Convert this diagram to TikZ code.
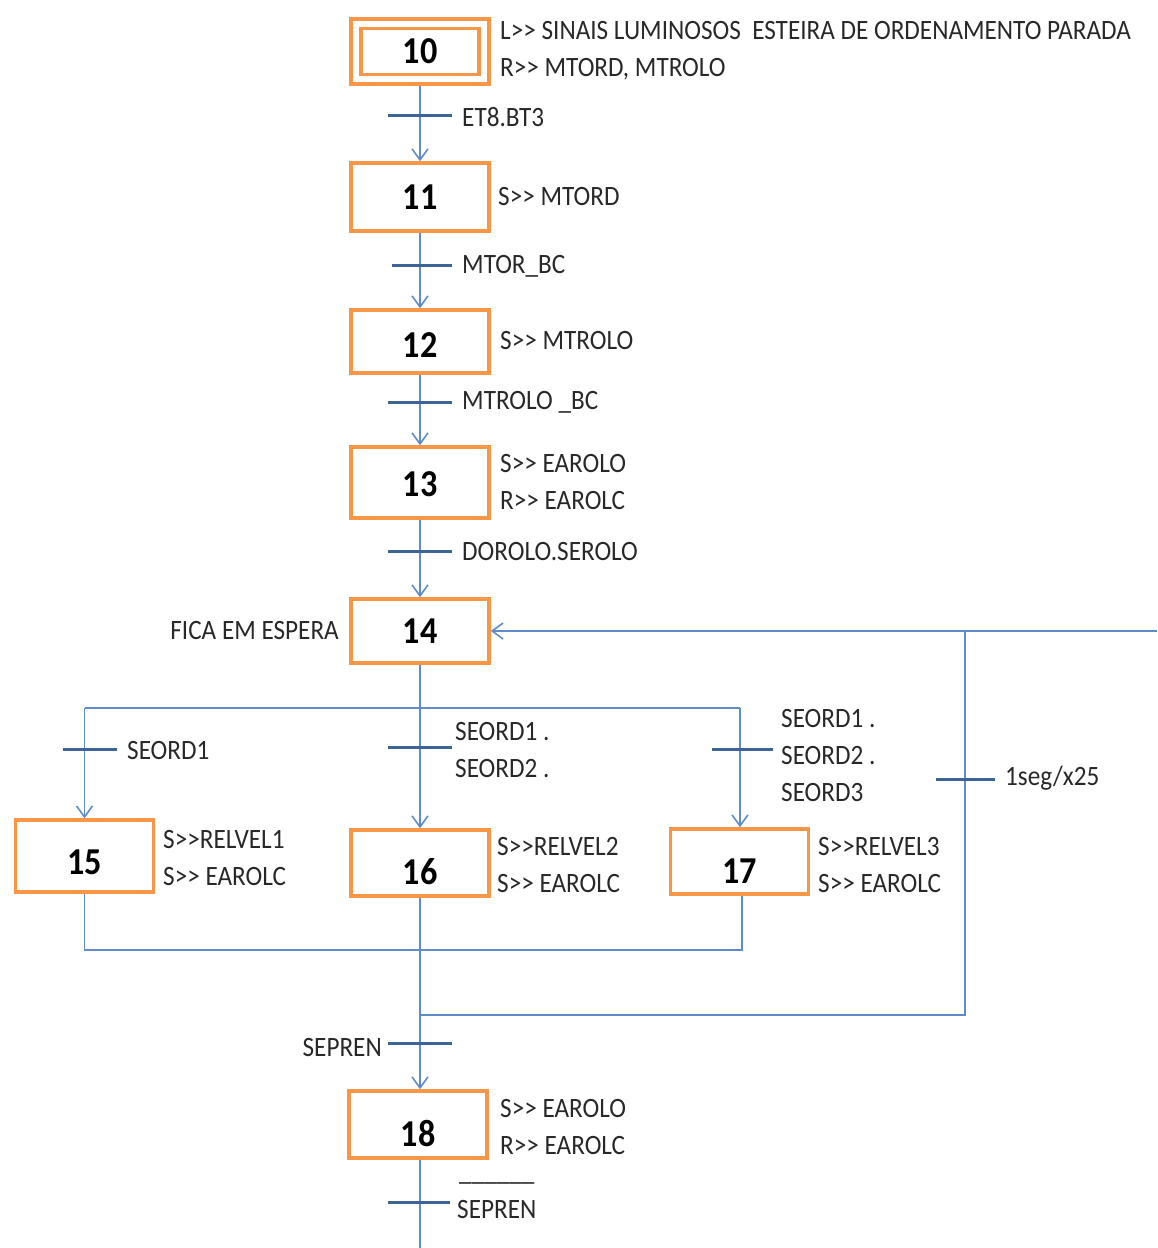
\documentclass[tikz,border=0pt]{standalone}
\usepackage{fontspec}
\setmainfont{Carlito}[FakeStretch=0.9]
\usetikzlibrary{arrows.meta}
\definecolor{stepor}{RGB}{247,150,70}
\definecolor{flow}{RGB}{95,140,200}
\definecolor{barc}{RGB}{60,100,150}
\definecolor{txt}{RGB}{40,40,40}
\newcommand{\lblfont}{\fontsize{28}{37}\selectfont}
\newcommand{\numfont}{\fontsize{38}{40}\selectfont\bfseries}
\newcommand{\sgt}{>{}>}
\begin{document}
\begin{tikzpicture}[x=1pt,y=-1pt,
  stepbox/.style={draw=stepor,line width=3.5pt,fill=white,minimum width=138pt,
    minimum height=66pt,inner sep=0pt,font=\numfont,text=black,
    text height=24.5pt,text depth=0pt},
  numdown/.style={text height=#1},
  lbl/.style={inner sep=0pt,align=left,font=\lblfont,text=txt},
  tbar/.style={fill=barc,minimum width=64pt,minimum height=3pt,inner sep=0pt,draw=none},
  flowline/.style={draw=flow,line width=1.6pt},
  flowarrow/.style={flowline,-{Straight Barb[length=11pt,width=16pt,line width=1.6pt]}}]
\useasboundingbox (0,0) rectangle (1157,1248);

% steps
\node[stepbox,minimum height=65pt,text height=0pt] (s10) at (420,51.5) {};
\node[stepbox,minimum width=118pt,minimum height=46pt,fill=none] (s10i) at (420,51.5) {10};
\node[stepbox,minimum height=68pt] (s11) at (420,197) {11};
\node[stepbox,minimum height=63pt,numdown=31.5pt] (s12) at (420,341.5) {12};
\node[stepbox,minimum height=71pt,numdown=27pt] (s13) at (420,482.5) {13};
\node[stepbox,minimum height=64pt] (s14) at (420,631) {14};
\node[stepbox,minimum height=72pt,numdown=36.5pt] (s15) at (84.5,856) {15};
\node[stepbox,minimum height=66pt,numdown=42.5pt] (s16) at (420,863) {16};
\node[stepbox,minimum height=65pt,numdown=44.5pt] (s17) at (739.5,861.5) {17};
\node[stepbox,minimum height=67pt,numdown=43.5pt] (s18) at (418,1124.5) {18};

% junction points
\coordinate (dv) at (420,708);
\coordinate (cv) at (420,950);
\coordinate (lp) at (420,1015);
\coordinate (lpR) at (965,1015);
\coordinate (lpT) at (965,631);
\coordinate (edgeR) at (1157,631);
\coordinate (bot) at (420,1248);

% sequence
\draw[flowarrow] (s10) -- (s11);
\draw[flowarrow] (s11) -- (s12);
\draw[flowarrow] (s12) -- (s13);
\draw[flowarrow] (s13) -- (s14);

% divergence
\draw[flowline] (s14.south) -- (dv);
\draw[flowline] (s15.north |- dv) -- (740,708);
\draw[flowarrow] (s15.north |- dv) -- (s15.north);
\draw[flowarrow] (dv) -- (s16.north);
\draw[flowarrow] (740,708) -- (740,0 |- s17.north);

% convergence
\draw[flowline] (s15.south) -- (s15.south |- cv) -- (742,950) -- (742,0 |- s17.south);
\draw[flowarrow] (s16.south) -- (420,0 |- s18.north);

% return loop
\draw[flowline] (lp) -- (lpR) -- (lpT);
\draw[flowarrow] (lpT) -- (s14.east);
\draw[flowline] (lpT) -- (edgeR);
\draw[flowline] (420,0 |- s18.south) -- (bot);

% transitions
\node[tbar] (t1) at (420,115) {};
\node[tbar,minimum width=60pt] (t2) at (422,265) {};
\node[tbar] (t3) at (420,402) {};
\node[tbar] (t4) at (420,551) {};
\node[tbar,minimum width=54pt] (t5) at (90,749) {};
\node[tbar] (t6) at (420,747) {};
\node[tbar,minimum width=61pt] (t7) at (742,749) {};
\node[tbar,minimum width=59pt] (t8) at (965,779) {};
\node[tbar] (t9) at (420,1043) {};
\node[tbar,minimum width=62pt] (t10) at (419,1202) {};

% transition conditions
\node[lbl,anchor=west] (c1) at (462,117) {ET8.BT3};
\node[lbl,anchor=west] (c2) at (462,266) {MTOR\_BC};
\node[lbl,anchor=west] (c3) at (462,402) {MTROLO \_BC};
\node[lbl,anchor=west] (c4) at (462,552) {DOROLO.SEROLO};
\node[lbl,anchor=west] (c5) at (127,750) {SEORD1};
\node[lbl,anchor=west] (c6) at (455,750) {SEORD1 .\\SEORD2 .};
\node[lbl,anchor=west] (c7) at (781,755) {SEORD1 .\\SEORD2 .\\SEORD3};
\node[lbl,anchor=west] (c8) at (1005,778) {1seg/x25};
\node[lbl,anchor=east] (c9) at (382,1047) {SEPREN};
\node[lbl,anchor=north west] (c10b) at (459,1180) {\_\_\_\_\_\_};
\node[lbl,anchor=west] (c10) at (457,1209) {SEPREN};

% actions
\node[lbl,anchor=west] (a10) at (500,51) {L\sgt{} SINAIS LUMINOSOS\ \ ESTEIRA DE ORDENAMENTO PARADA\\R\sgt{} MTORD, MTROLO};
\node[lbl,anchor=west] (a11) at (498,197) {S\sgt{} MTORD};
\node[lbl,anchor=west] (a12) at (500,341) {S\sgt{} MTROLO};
\node[lbl,anchor=west] (a13) at (500,482) {S\sgt{} EAROLO\\R\sgt{} EAROLC};
\node[lbl,anchor=east] (a14) at (339,631) {FICA EM ESPERA};
\node[lbl,anchor=west] (a15) at (163,858) {S\sgt RELVEL1\\S\sgt{} EAROLC};
\node[lbl,anchor=west] (a16) at (497,865) {S\sgt RELVEL2\\S\sgt{} EAROLC};
\node[lbl,anchor=west] (a17) at (818,865) {S\sgt RELVEL3\\S\sgt{} EAROLC};
\node[lbl,anchor=west] (a18) at (500,1127) {S\sgt{} EAROLO\\R\sgt{} EAROLC};
\end{tikzpicture}
\end{document}
